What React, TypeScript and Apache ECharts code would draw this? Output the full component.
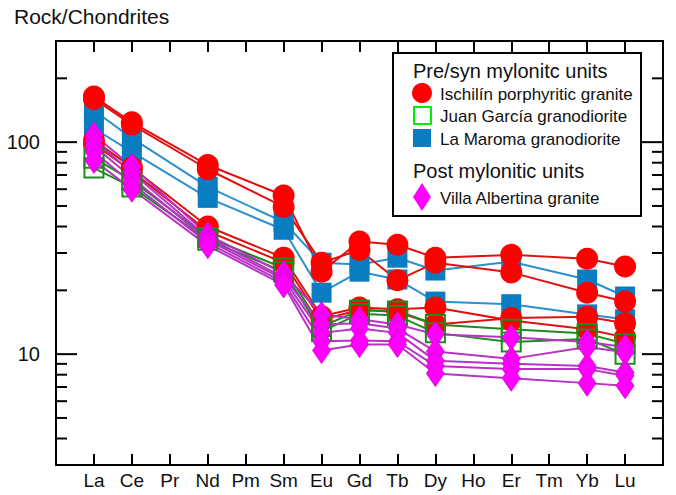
import React, { useEffect, useRef } from 'react';
import * as echarts from 'echarts';

// REE order on the x axis (positions 1..15)
const elements = ['La', 'Ce', 'Pr', 'Nd', 'Pm', 'Sm', 'Eu', 'Gd', 'Tb', 'Dy', 'Ho', 'Er', 'Tm', 'Yb', 'Lu'];
// elements that were analysed
const measured = ['La', 'Ce', 'Nd', 'Sm', 'Eu', 'Gd', 'Tb', 'Dy', 'Er', 'Yb', 'Lu'];

// Ischilín porphyritic granite
const ischilin1 = [164, 124, 78, 56, 24.5, 34, 32.8, 28.5, 29.4, 28.2, 25.9];
const ischilin2 = [160, 121, 74.5, 49.5, 27, 31, 22.3, 27, 24.3, 19.5, 17.7];
const ischilin3 = [102, 76, 40, 28.5, 15.1, 16.6, 16.3, 16.6, 14.4, 13.1, 12.0];
const ischilin4 = [98, 73, 38, 27, 14.5, 16.2, 15.8, 13.8, 14.8, 15.0, 14.0];
// Juan García granodiorite
const juanGarcia1 = [84, 66, 35.5, 25.5, 13.5, 16.1, 16.0, 13.8, 13.1, 12.5, 11.2];
const juanGarcia2 = [75.5, 61.5, 34.5, 24.5, 12.8, 15.5, 15.2, 12.6, 11.4, 11.8, 10.0];
// La Maroma granodiorite
const laMaroma1 = [141, 104.5, 61.5, 42, 27, 26.5, 28.5, 24.8, 27.3, 22.5, 18.7];
const laMaroma2 = [116, 90, 54.6, 38.6, 19.5, 24.5, 22.5, 17.7, 17.2, 15.4, 14.6];
// Villa Albertina granite
const villa1 = [108, 77, 36.6, 24, 15.4, 14.6, 13.8, 12.4, 12.0, 11.4, 10.8];
const villa2 = [102, 72, 35.5, 23, 13.8, 14.0, 13.2, 10.3, 9.5, 10.8, 10.2];
const villa3 = [96, 68, 34.5, 22.5, 12.6, 13.2, 12.6, 9.3, 9.0, 8.8, 8.2];
const villa4 = [90, 64, 33.5, 21.8, 11.5, 11.6, 11.5, 8.8, 8.5, 8.5, 7.9];
const villa5 = [82, 60, 32.5, 21.2, 10.4, 11.1, 11.1, 8.1, 7.7, 7.3, 7.1];

const yMajorTicks = [10, 100];
const yMinorTicks = [4, 5, 6, 7, 8, 9, 20, 30, 40, 50, 60, 70, 80, 90, 200];

const yTitle = 'Rock/Chondrites';
const groupTitles = ['Pre/syn mylonitc units', 'Post mylonitic units'];
const unitNames = [
  'Ischilín porphyritic granite',
  'Juan García granodiorite',
  'La Maroma granodiorite',
  'Villa Albertina granite',
];

const FONT = '"Liberation Sans", Arial, Helvetica, sans-serif';

const toPoints = (vals: number[]) =>
  vals.map((v, i) => [elements.indexOf(measured[i]) + 1, v]);

type Style = {
  name: string;
  symbol: string;
  size: number | number[];
  fill: string;
  border: string;
  borderWidth: number;
  line: string;
};

const styles: Record<string, Style> = {
  red: { name: unitNames[0], symbol: 'circle', size: 22, fill: '#ff0000', border: '#f00000', borderWidth: 0, line: '#e01010' },
  green: { name: unitNames[1], symbol: 'rect', size: 19, fill: 'rgba(0,0,0,0)', border: '#1c8c1c', borderWidth: 2, line: '#1c8c1c' },
  blue: { name: unitNames[2], symbol: 'rect', size: 20, fill: '#0a7cc1', border: '#0a7cc1', borderWidth: 0, line: '#2a90d0' },
  magenta: { name: unitNames[3], symbol: 'diamond', size: [18, 26], fill: '#ff00ff', border: '#d400d4', borderWidth: 0.8, line: '#b833c4' },
};

const makeSeries = (vals: number[], st: Style) => ({
  type: 'line',
  name: st.name,
  data: toPoints(vals),
  symbol: st.symbol,
  symbolSize: st.size,
  showAllSymbol: true,
  lineStyle: { color: st.line, width: 2 },
  itemStyle: { color: st.fill, borderColor: st.border, borderWidth: st.borderWidth },
  emphasis: { disabled: true },
  silent: true,
});

export default function App() {
  const ref = useRef<HTMLDivElement>(null);

  useEffect(() => {
    if (!ref.current) return;
    const chart = echarts.init(ref.current, null, { renderer: 'svg' });

    const axisLine = { show: true, onZero: false, lineStyle: { color: '#000', width: 2 } };
    const xTick = { show: true, inside: true, length: 11, lineStyle: { color: '#000', width: 2 } };

    const option: any = {
      animation: false,
      backgroundColor: '#ffffff',
      grid: { left: 56, right: 13, top: 41, bottom: 30 },
      xAxis: [
        {
          type: 'value', min: 0, max: 16, interval: 1, position: 'bottom',
          axisLine, axisTick: xTick, splitLine: { show: false },
          axisLabel: {
            formatter: (v: number) => elements[Math.round(v) - 1] ?? '',
            fontSize: 19, color: '#111', margin: 6, fontFamily: FONT,
          },
        },
        {
          type: 'value', min: 0, max: 16, interval: 1, position: 'top',
          axisLine, axisTick: xTick, splitLine: { show: false },
          axisLabel: { show: false },
        },
      ],
      yAxis: [
        {
          type: 'log', logBase: 10, min: 3, max: 300, position: 'left',
          axisLine, axisTick: { show: false }, splitLine: { show: false },
          axisLabel: {
            formatter: (v: number) => {
              for (const t of yMajorTicks) if (Math.abs(v - t) < t * 1e-6) return String(t);
              return '';
            },
            fontSize: 20, color: '#111', margin: 16, fontFamily: FONT,
          },
        },
        {
          type: 'log', logBase: 10, min: 3, max: 300, position: 'right',
          axisLine, axisTick: { show: false }, splitLine: { show: false },
          axisLabel: { show: false },
        },
      ],
      series: [
        makeSeries(laMaroma1, styles.blue),
        makeSeries(laMaroma2, styles.blue),
        makeSeries(ischilin1, styles.red),
        makeSeries(ischilin2, styles.red),
        makeSeries(ischilin3, styles.red),
        makeSeries(ischilin4, styles.red),
        makeSeries(juanGarcia1, styles.green),
        makeSeries(juanGarcia2, styles.green),
        makeSeries(villa1, styles.magenta),
        makeSeries(villa2, styles.magenta),
        makeSeries(villa3, styles.magenta),
        makeSeries(villa4, styles.magenta),
        makeSeries(villa5, styles.magenta),
        {
          type: 'custom',
          silent: true,
          clip: false,
          z: 20,
          encode: { x: 0, y: 1 },
          data: [
            ...yMajorTicks.map((v) => [0, v, 1]),
            ...yMinorTicks.map((v) => [0, v, 0]),
          ],
          renderItem: (_p: any, api: any) => {
            const v = api.value(1);
            const major = api.value(2) === 1;
            const l = api.coord([0, v]);
            const r = api.coord([16, v]);
            const len = major ? 21 : 11;
            const st = { stroke: '#000', lineWidth: 2 };
            return {
              type: 'group',
              children: [
                { type: 'line', shape: { x1: l[0], y1: l[1], x2: l[0] + len, y2: l[1] }, style: st },
                { type: 'line', shape: { x1: r[0] - len, y1: r[1], x2: r[0], y2: r[1] }, style: st },
              ],
            };
          },
        },
      ],
      graphic: [
        {
          type: 'text', left: 14, top: 6, z: 50,
          style: { text: yTitle, fontSize: 21, fontFamily: FONT, fill: '#111' },
        },
        {
          type: 'group', z: 100,
          children: [
            { type: 'rect', shape: { x: 393, y: 53, width: 248, height: 163 }, style: { fill: '#fff', stroke: '#000', lineWidth: 2 } },
            { type: 'text', x: 413, y: 71, style: { text: groupTitles[0], fontSize: 20, fontFamily: FONT, fill: '#111', verticalAlign: 'middle' } },
            { type: 'circle', shape: { cx: 422, cy: 93, r: 10 }, style: { fill: '#ff0000' } },
            { type: 'text', x: 440, y: 94, style: { text: unitNames[0], fontSize: 17, fontFamily: FONT, fill: '#111', verticalAlign: 'middle' } },
            { type: 'rect', shape: { x: 414, y: 107, width: 17, height: 17 }, style: { fill: '#fff', stroke: '#00ee00', lineWidth: 2 } },
            { type: 'text', x: 440, y: 116, style: { text: unitNames[1], fontSize: 17, fontFamily: FONT, fill: '#111', verticalAlign: 'middle' } },
            { type: 'rect', shape: { x: 413, y: 129, width: 18, height: 18 }, style: { fill: '#0a7cc1' } },
            { type: 'text', x: 440, y: 139, style: { text: unitNames[2], fontSize: 17, fontFamily: FONT, fill: '#111', verticalAlign: 'middle' } },
            { type: 'text', x: 413, y: 171, style: { text: groupTitles[1], fontSize: 20, fontFamily: FONT, fill: '#111', verticalAlign: 'middle' } },
            { type: 'polygon', shape: { points: [[422, 183], [431, 197], [422, 211], [413, 197]] }, style: { fill: '#ff00ff' } },
            { type: 'text', x: 440, y: 198, style: { text: unitNames[3], fontSize: 17, fontFamily: FONT, fill: '#111', verticalAlign: 'middle' } },
          ],
        },
      ],
    };

    chart.setOption(option);
    return () => chart.dispose();
  }, []);

  return (
    <div
      ref={ref}
      style={{ position: 'fixed', left: 0, top: 0, width: 676, height: 495, background: '#fff' }}
    />
  );
}
